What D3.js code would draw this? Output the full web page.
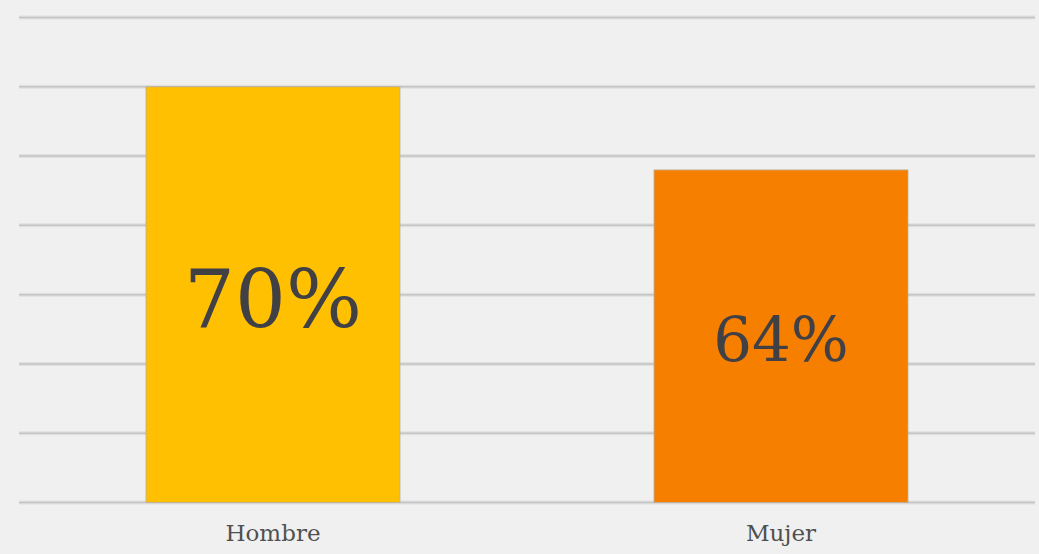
<!DOCTYPE html>
<html>
<head>
<meta charset="utf-8">
<script src="https://cdn.jsdelivr.net/npm/d3@7"></script>
<style>
  html, body { margin: 0; padding: 0; background: #f0f0f0; }
  svg { display: block; }
</style>
</head>
<body>
<svg id="chart" width="1039" height="554"></svg>
<script>
// Share by sex
const categories = ["Hombre", "Mujer"];
const values = [70, 64];
const labels = ["70%", "64%"];
const colors = ["#fec000", "#f67f00"];
const gridTicks = [40, 45, 50, 55, 60, 65, 70, 75];

const width = 1039, height = 554;
const margin = { top: 17.5, right: 4, bottom: 51.5, left: 19 };

const svg = d3.select("#chart");

const x = d3.scaleBand()
  .domain(categories)
  .range([margin.left, width - margin.right])
  .paddingInner(0.5)
  .paddingOuter(0.25);

const y = d3.scaleLinear()
  .domain([40, 75])
  .range([height - margin.bottom, margin.top]);

// horizontal gridlines
const grid = svg.append("g");
grid.selectAll("line.halo")
  .data(gridTicks)
  .join("line")
  .attr("x1", margin.left).attr("x2", width - margin.right)
  .attr("y1", d => y(d)).attr("y2", d => y(d))
  .attr("stroke", "#e0e0e0").attr("stroke-width", 4);
grid.selectAll("line.main")
  .data(gridTicks)
  .join("line")
  .attr("x1", margin.left).attr("x2", width - margin.right)
  .attr("y1", d => y(d)).attr("y2", d => y(d))
  .attr("stroke", "#c4c4c4").attr("stroke-width", 1.5);

// bars
svg.append("g").selectAll("rect")
  .data(categories)
  .join("rect")
  .attr("x", d => x(d))
  .attr("width", x.bandwidth())
  .attr("y", (d, i) => y(values[i]))
  .attr("height", (d, i) => y(40) - y(values[i]))
  .attr("fill", (d, i) => colors[i])
  .attr("stroke", "#b8b0a0")
  .attr("stroke-width", 0.8);

// value labels inside bars
const sizes = [80, 61];
svg.append("g").selectAll("text")
  .data(categories)
  .join("text")
  .attr("x", d => x(d) + x.bandwidth() / 2)
  .attr("y", (d, i) => (y(values[i]) + y(40)) / 2 + sizes[i] * 0.4)
  .attr("text-anchor", "middle")
  .attr("font-family", "DejaVu Serif, serif")
  .attr("font-size", (d, i) => sizes[i])
  .attr("fill", "#404045")
  .text((d, i) => labels[i]);

// category axis labels
svg.append("g").selectAll("text")
  .data(categories)
  .join("text")
  .attr("x", d => x(d) + x.bandwidth() / 2)
  .attr("y", 541)
  .attr("text-anchor", "middle")
  .attr("font-family", "DejaVu Serif, serif")
  .attr("font-size", 23)
  .attr("fill", "#505050")
  .text(d => d);
</script>
</body>
</html>
